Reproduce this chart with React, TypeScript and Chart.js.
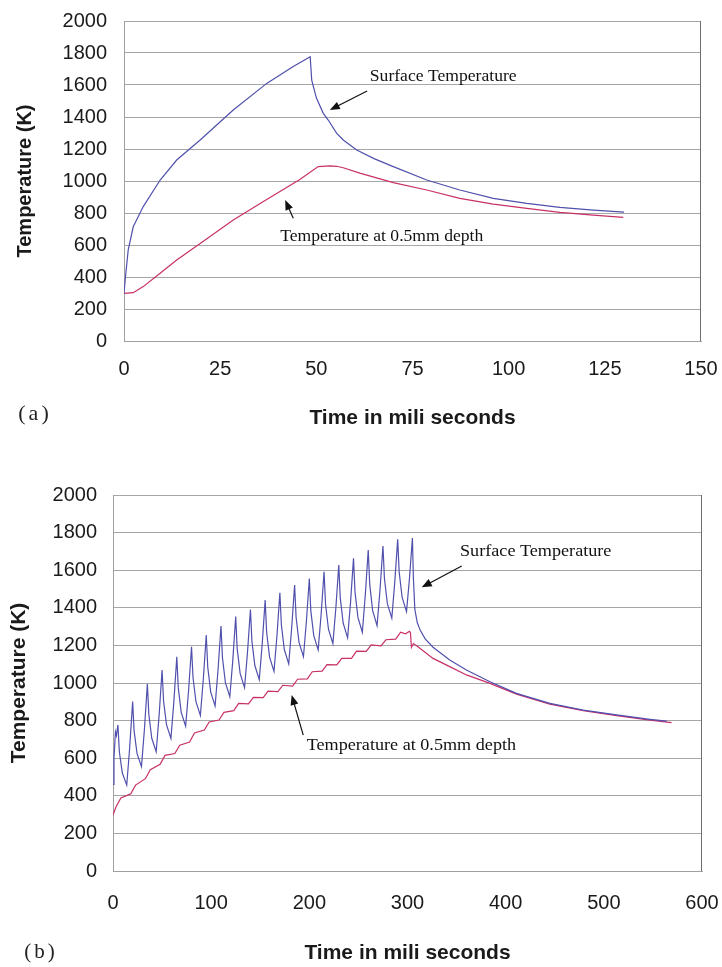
import React, { useEffect, useRef } from "react";
import { Chart, registerables } from "chart.js";

Chart.register(...registerables);

// ---------- (a) single pulse ----------
const surfaceATime = [0, 0.5, 1.1, 2.4, 5, 9.4, 13.7, 19.8, 28.4, 37.1, 44, 48.4, 48.8, 50, 51.8, 53.1, 55.3, 57, 60.5, 65, 70, 78.7, 87.3, 96, 104.7, 113.3, 122, 130];
const surfaceATemp = [300, 430, 569, 714, 840, 1006, 1131, 1256, 1444, 1610, 1715, 1777, 1631, 1520, 1423, 1381, 1298, 1256, 1194, 1140, 1090, 1006, 944, 891, 860, 835, 818, 806];
const depthATime = [0, 2.4, 5, 9.4, 13.7, 19.8, 28.4, 37.1, 45.7, 50.5, 53.6, 55.3, 57, 61.3, 70, 78.7, 87.3, 96, 104.7, 113.3, 122, 129.8];
const depthATemp = [298, 302, 340, 423, 506, 610, 756, 885, 1010, 1090, 1094, 1092, 1083, 1049, 990, 944, 891, 856, 829, 804, 787, 773];

// ---------- (b) pulse train ----------
const surfaceBTime = [
  0, 1, 2.5, 3.5, 5,
  6.5, 9.5, 14, 17, 20,
  21.5, 24.5, 29, 32, 35,
  36.5, 39.5, 44, 47, 50,
  51.5, 54.5, 59, 62, 65,
  66.5, 69.5, 74, 77, 80,
  81.5, 84.5, 89, 92, 95,
  96.5, 99.5, 104, 107, 110,
  111.5, 114.5, 119, 122, 125,
  126.5, 129.5, 134, 137, 140,
  141.5, 144.5, 149, 152, 155,
  156.5, 159.5, 164, 167, 170,
  171.5, 174.5, 179, 182, 185,
  186.5, 189.5, 194, 197, 200,
  201.5, 204.5, 209, 212, 215,
  216.5, 219.5, 224, 227, 230,
  231.5, 234.5, 239, 242, 245,
  246.5, 249.5, 254, 257, 260,
  261.5, 264.5, 269, 272, 275,
  276.5, 279.5, 284, 287, 290,
  291.5, 294.5, 299, 302, 305,
  306, 307.5, 310, 313, 318, 326, 343, 360, 384, 411, 445, 479, 513, 547, 564,
];
const surfaceBTemp = [
  460, 600, 740, 720, 777,
  633, 521, 457, 657, 901,
  745, 624, 555, 753, 995,
  833, 706, 634, 830, 1069,
  905, 778, 705, 901, 1140,
  974, 844, 770, 960, 1193,
  1029, 901, 828, 1020, 1255,
  1085, 953, 878, 1069, 1303,
  1134, 1002, 927, 1119, 1353,
  1183, 1051, 975, 1162, 1391,
  1223, 1093, 1018, 1208, 1441,
  1270, 1138, 1062, 1250, 1480,
  1310, 1178, 1102, 1291, 1521,
  1350, 1216, 1140, 1327, 1556,
  1385, 1252, 1176, 1363, 1592,
  1420, 1286, 1210, 1398, 1628,
  1453, 1318, 1240, 1430, 1663,
  1486, 1349, 1270, 1467, 1707,
  1526, 1385, 1305, 1496, 1729,
  1556, 1422, 1345, 1534, 1764,
  1591, 1457, 1380, 1556, 1771,
  1560, 1390, 1320, 1280, 1235, 1190, 1122, 1069, 1007, 945, 892, 856, 830, 807, 797,
];
const depthBTime = [
  0, 3, 8, 18, 23, 33, 38, 48, 53, 63, 68, 78, 83, 93, 98, 108, 113, 123, 128, 138, 143,
  153, 158, 168, 173, 183, 188, 198, 203, 213, 218, 228, 233, 243, 248, 258, 263, 273, 278,
  288, 293, 298, 302, 303, 304, 306, 310, 326, 343, 360, 384, 411, 445, 479, 513, 547, 569,
];
const depthBTemp = [
  298, 340, 388, 410, 457, 491, 539, 568, 615, 625, 669, 686, 734, 750, 793, 803, 844, 853, 892, 889, 924,
  922, 957, 954, 988, 984, 1020, 1022, 1060, 1063, 1098, 1096, 1131, 1131, 1169, 1168, 1203, 1198, 1230,
  1233, 1270, 1262, 1275, 1268, 1190, 1210, 1195, 1131, 1087, 1043, 998, 941, 888, 853, 826, 803, 789,
];

const xTicksA = [0, 25, 50, 75, 100, 125, 150];
const xTicksB = [0, 100, 200, 300, 400, 500, 600];
const yTicks = [0, 200, 400, 600, 800, 1000, 1200, 1400, 1600, 1800, 2000];

const seriesLabels = ["Surface Temperature", "Temperature at 0.5mm depth"];
const xTitle = "Time in mili seconds";
const yTitle = "Temperature (K)";

const SANS = '"Liberation Sans", Arial, sans-serif';
const SERIF = '"Liberation Serif", "Times New Roman", serif';
const BLUE = "#5050ad";
const RED = "#c83068";

function pts(xs: number[], ys: number[]) {
  return xs.map((x, i) => ({ x, y: ys[i] }));
}

const notesPlugin = {
  id: "notes",
  afterDraw(chart: any, _args: any, opts: any) {
    const { ctx, chartArea, scales } = chart;
    const xs = scales.x;
    const ys = scales.y;
    ctx.save();
    // right border of plot area
    ctx.strokeStyle = "#6e6e6e";
    ctx.lineWidth = 1;
    const rx = Math.round(chartArea.right) - 0.5;
    ctx.beginPath();
    ctx.moveTo(rx, chartArea.top);
    ctx.lineTo(rx, chartArea.bottom);
    ctx.stroke();

    ctx.fillStyle = "#111";
    ctx.strokeStyle = "#111";
    for (const n of opts.items || []) {
      const tx = xs.getPixelForValue(n.text[0]);
      const ty = ys.getPixelForValue(n.text[1]);
      ctx.save();
      ctx.font = `${n.size}px ${SERIF}`;
      ctx.textAlign = "left";
      ctx.textBaseline = "middle";
      ctx.translate(tx, ty);
      ctx.scale(n.stretch, 1);
      ctx.fillText(n.label, 0, 0);
      ctx.restore();

      const ax = xs.getPixelForValue(n.tail[0]);
      const ay = ys.getPixelForValue(n.tail[1]);
      const hx = xs.getPixelForValue(n.head[0]);
      const hy = ys.getPixelForValue(n.head[1]);
      const ang = Math.atan2(hy - ay, hx - ax);
      const L = 10;
      const W = 4;
      ctx.lineWidth = 1.2;
      ctx.beginPath();
      ctx.moveTo(ax, ay);
      ctx.lineTo(hx - Math.cos(ang) * L * 0.6, hy - Math.sin(ang) * L * 0.6);
      ctx.stroke();
      ctx.beginPath();
      ctx.moveTo(hx, hy);
      ctx.lineTo(hx - Math.cos(ang) * L - Math.sin(ang) * W, hy - Math.sin(ang) * L + Math.cos(ang) * W);
      ctx.lineTo(hx - Math.cos(ang) * L + Math.sin(ang) * W, hy - Math.sin(ang) * L - Math.cos(ang) * W);
      ctx.closePath();
      ctx.fill();
    }
    if (opts.panel) {
      ctx.font = `${opts.panel.size}px ${SERIF}`;
      ctx.textAlign = "center";
      ctx.textBaseline = "middle";
      ctx.fillStyle = "#222";
      try {
        (ctx as any).letterSpacing = "3px";
      } catch (e) {
        /* ignore */
      }
      ctx.fillText(opts.panel.text, opts.panel.x, opts.panel.y);
    }
    ctx.restore();
  },
};

function zeroPadding(s: any) {
  s.paddingTop = 0;
  s.paddingBottom = 0;
  s.paddingLeft = 0;
  s.paddingRight = 0;
}

function makeConfig(p: any): any {
  return {
    type: "line",
    data: {
      datasets: [
        {
          label: seriesLabels[0],
          data: pts(p.sTime, p.sTemp),
          borderColor: BLUE,
          borderWidth: 1.2,
          pointRadius: 0,
          tension: 0,
          fill: false,
        },
        {
          label: seriesLabels[1],
          data: pts(p.dTime, p.dTemp),
          borderColor: RED,
          borderWidth: 1.2,
          pointRadius: 0,
          tension: 0,
          fill: false,
        },
      ],
    },
    options: {
      animation: false,
      responsive: false,
      devicePixelRatio: 1,
      layout: { padding: { top: p.padTop, right: p.padRight, left: 0, bottom: 0 } },
      plugins: {
        legend: { display: false },
        tooltip: { enabled: false },
        notes: { items: p.notes, panel: p.panel },
      },
      scales: {
        x: {
          type: "linear",
          min: 0,
          max: p.xTicks[p.xTicks.length - 1],
          afterBuildTicks: (s: any) => {
            s.ticks = p.xTicks.map((v: number) => ({ value: v }));
          },
          afterFit: (s: any) => {
            s.height = p.xHeight;
            zeroPadding(s);
          },
          grid: { display: false, drawTicks: false },
          border: { display: true, color: "#a0a0a0", width: 1 },
          ticks: {
            padding: p.xTickPad,
            color: "#1a1a1a",
            font: { family: SANS, size: 20 },
            maxRotation: 0,
            autoSkip: false,
            callback: (v: any) => String(v),
          },
          title: {
            display: true,
            text: xTitle,
            color: "#1a1a1a",
            font: { family: SANS, size: 21, weight: "bold" },
            padding: { top: 0, bottom: p.xTitlePad },
          },
        },
        y: {
          min: 0,
          max: 2000,
          afterBuildTicks: (s: any) => {
            s.ticks = yTicks.map((v: number) => ({ value: v }));
          },
          afterFit: (s: any) => {
            s.width = p.yWidth;
            zeroPadding(s);
          },
          grid: { display: true, color: "#a6a6a6", lineWidth: 1, drawTicks: false },
          border: { display: true, color: "#a0a0a0", width: 1 },
          ticks: {
            padding: p.yTickPad,
            color: "#1a1a1a",
            font: { family: SANS, size: 20 },
            autoSkip: false,
            callback: (v: any) => String(v),
          },
          title: {
            display: true,
            text: yTitle,
            color: "#1a1a1a",
            font: { family: SANS, size: p.yTitleSize, weight: "bold" },
            padding: { top: p.yTitlePad, bottom: 0 },
          },
        },
      },
    },
    plugins: [notesPlugin],
  };
}

const configA = () =>
  makeConfig({
    sTime: surfaceATime,
    sTemp: surfaceATemp,
    dTime: depthATime,
    dTemp: depthATemp,
    xTicks: xTicksA,
    yWidth: 124,
    xHeight: 104,
    padTop: 21,
    padRight: 21,
    xTickPad: 16,
    yTickPad: 17,
    xTitlePad: 14,
    yTitlePad: 13,
    yTitleSize: 20,
    notes: [
      { label: "Surface Temperature", text: [63.9, 1650], tail: [63.2, 1562], head: [53.5, 1444], size: 16, stretch: 1.1 },
      { label: "Temperature at 0.5mm depth", text: [40.6, 650], tail: [44, 767], head: [41.9, 881], size: 16, stretch: 1.1 },
    ],
    panel: { text: "(a)", x: 35, y: 414, size: 22 },
  });

const configB = () =>
  makeConfig({
    sTime: surfaceBTime,
    sTemp: surfaceBTemp,
    dTime: depthBTime,
    dTemp: depthBTemp,
    xTicks: xTicksB,
    yWidth: 113,
    xHeight: 96,
    padTop: 40,
    padRight: 20,
    xTickPad: 20,
    yTickPad: 16,
    xTitlePad: 1,
    yTitlePad: 7,
    yTitleSize: 21,
    notes: [
      { label: "Surface Temperature", text: [353.5, 1698], tail: [355.2, 1622], head: [314.5, 1509], size: 16.5, stretch: 1.1 },
      { label: "Temperature at 0.5mm depth", text: [197.3, 665], tail: [193.8, 723], head: [182, 936], size: 16.5, stretch: 1.1 },
    ],
    panel: { text: "(b)", x: 41, y: 497, size: 21 },
  });

function Panel({ make, top, height }: { make: () => any; top: number; height: number }) {
  const ref = useRef<HTMLCanvasElement>(null);
  useEffect(() => {
    const chart = new Chart(ref.current as HTMLCanvasElement, make());
    return () => chart.destroy();
  }, []);
  return (
    <canvas
      ref={ref}
      width={722}
      height={height}
      style={{ position: "absolute", left: 0, top, width: 722, height }}
    />
  );
}

export default function App() {
  return (
    <div style={{ position: "absolute", left: 0, top: 0, width: 722, height: 967, background: "#fff" }}>
      <Panel make={configA} top={0} height={445} />
      <Panel make={configB} top={455} height={512} />
    </div>
  );
}
